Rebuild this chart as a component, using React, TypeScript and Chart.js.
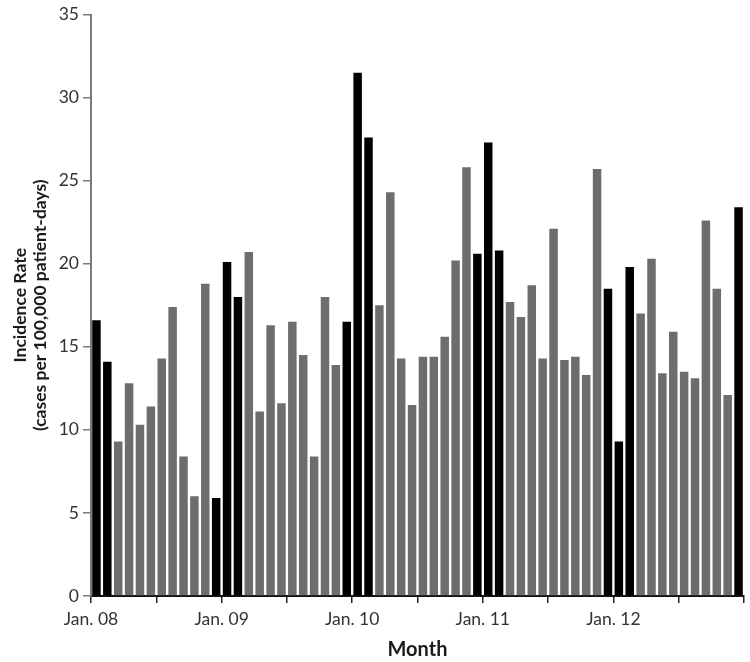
import React, { useEffect, useRef } from 'react';
import { Chart, registerables } from 'chart.js';

Chart.register(...registerables);

// Categories
const years = ['08', '09', '10', '11', '12'];
const monthNames = ['Jan', 'Feb', 'Mar', 'Apr', 'May', 'Jun', 'Jul', 'Aug', 'Sep', 'Oct', 'Nov', 'Dec'];
const winterMonths = ['Dec', 'Jan', 'Feb'];

// Monthly incidence rate (cases per 100,000 patient-days), Jan 2008 .. Dec 2012
const rates2008 = [16.6, 14.1, 9.3, 12.8, 10.3, 11.4, 14.3, 17.4, 8.4, 6.0, 18.8, 5.9];
const rates2009 = [20.1, 18.0, 20.7, 11.1, 16.3, 11.6, 16.5, 14.5, 8.4, 18.0, 13.9, 16.5];
const rates2010 = [31.5, 27.6, 17.5, 24.3, 14.3, 11.5, 14.4, 14.4, 15.6, 20.2, 25.8, 20.6];
const rates2011 = [27.3, 20.8, 17.7, 16.8, 18.7, 14.3, 22.1, 14.2, 14.4, 13.3, 25.7, 18.5];
const rates2012 = [9.3, 19.8, 17.0, 20.3, 13.4, 15.9, 13.5, 13.1, 22.6, 18.5, 12.1, 23.4];

// Tick labels
const xTickLabels = ['Jan. 08', 'Jan. 09', 'Jan. 10', 'Jan. 11', 'Jan. 12'];
const yTickValues = [0, 5, 10, 15, 20, 25, 30, 35];

const FONT = 'Lato, "Open Sans", sans-serif';

export default function App() {
  const canvasRef = useRef<HTMLCanvasElement | null>(null);

  useEffect(() => {
    document.body.style.margin = '0';
    const canvas = canvasRef.current;
    if (!canvas) return;

    const rates = [...rates2008, ...rates2009, ...rates2010, ...rates2011, ...rates2012];
    const categories: string[] = [];
    years.forEach((y) => monthNames.forEach((m) => categories.push(`${m} ${y}`)));

    const data = rates.map((v, i) => ({ x: i + 0.5, y: v }));
    const colors = categories.map((c) => (winterMonths.includes(c.split(' ')[0]) ? '#000000' : '#6d6d6d'));

    const chart = new Chart(canvas, {
      type: 'bar',
      data: {
        labels: categories,
        datasets: [
          {
            data: data as any,
            backgroundColor: colors,
            borderWidth: 0,
            categoryPercentage: 0.78,
            barPercentage: 1,
          },
        ],
      },
      options: {
        animation: false,
        responsive: false,
        devicePixelRatio: 1,
        layout: { padding: { top: 14, right: 6, left: 0, bottom: 0 } },
        plugins: { legend: { display: false }, tooltip: { enabled: false } },
        scales: {
          x: {
            type: 'linear',
            min: 0,
            max: rates.length,
            offset: false,
            afterBuildTicks: (s: any) => {
              const t = [];
              for (let v = 0; v <= rates.length; v += 6) t.push({ value: v });
              s.ticks = t;
            },
            ticks: {
              autoSkip: false,
              maxRotation: 0,
              padding: 6,
              color: '#333333',
              font: { family: FONT, size: 17.5 },
              callback: (v: any) => {
                const n = Number(v);
                if (n % 12 === 0 && n / 12 < xTickLabels.length) return xTickLabels[n / 12];
                return '';
              },
            },
            grid: {
              display: true,
              drawOnChartArea: false,
              drawTicks: true,
              tickLength: 7,
              tickColor: '#222222',
              lineWidth: 1.5,
              offset: false,
            },
            border: { display: true, color: '#111111', width: 2 },
            title: {
              display: true,
              text: 'Month',
              color: '#1a1a1a',
              font: { family: FONT, size: 20, weight: 'bold' },
              padding: { top: 2, bottom: 0 },
            },
            afterFit: (s: any) => {
              s.height = 66;
            },
          } as any,
          y: {
            min: 0,
            max: 35,
            afterBuildTicks: (s: any) => {
              s.ticks = yTickValues.map((v) => ({ value: v }));
            },
            ticks: {
              padding: 4,
              color: '#333333',
              font: { family: FONT, size: 17.5 },
            },
            grid: {
              display: true,
              drawOnChartArea: false,
              drawTicks: true,
              tickLength: 8,
              tickColor: '#7a7a7a',
              lineWidth: 1.5,
            },
            border: { display: true, color: '#7a7a7a', width: 2 },
            title: {
              display: true,
              text: ['Incidence Rate', '(cases per 100,000 patient-days)'],
              color: '#1a1a1a',
              font: { family: FONT, size: 17.5, weight: 'bold', lineHeight: 1.15 },
              padding: { top: 10, bottom: 2 },
            },
            afterFit: (s: any) => {
              s.width = 91;
            },
          } as any,
        },
      },
    });

    return () => chart.destroy();
  }, []);

  return (
    <div style={{ width: 750, height: 662, background: '#ffffff' }}>
      <canvas ref={canvasRef} width={750} height={662} style={{ display: 'block' }} />
    </div>
  );
}
